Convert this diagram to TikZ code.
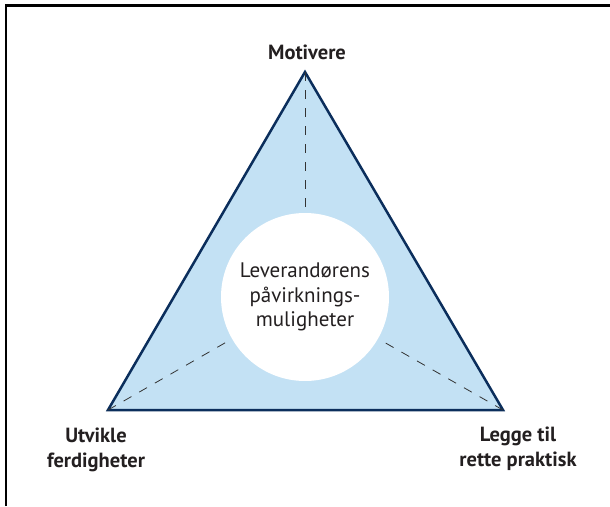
\documentclass[tikz,border=0pt]{standalone}
\usepackage{fontspec}
\setmainfont{PT Sans}
\definecolor{triFill}{HTML}{C3E1F4}
\definecolor{triLine}{HTML}{0B2E5C}
\definecolor{txt}{HTML}{231F20}
\begin{document}
\begin{tikzpicture}[x=1pt,y=-1pt,
  lbl/.style={font=\fontsize{20.5}{25}\selectfont\bfseries, text=txt, align=center, inner sep=0pt},
  ctxt/.style={font=\fontsize{21}{24.5}\selectfont, text=txt, align=center},
  guide/.style={draw=black!80, line width=0.8pt, dash pattern=on 9pt off 9pt}]
\useasboundingbox (0,0) rectangle (610,506);
% frame (left and top only)
\draw[line width=2.5pt] (6,506) -- (6,5.5) -- (610,5.5);
% triangle corners
\coordinate (top) at (305,72);
\coordinate (bl) at (108,410);
\coordinate (br) at (503,410);
\draw[fill=triFill, draw=triLine, line width=2.5pt, line join=miter] (top) -- (br) -- (bl) -- cycle;
% central circle
\node[circle, fill=white, minimum size=168pt, inner sep=0pt] (c) at (305,297) {};
\draw[guide] (top) -- (c);
\draw[guide] (br) -- (c);
\draw[guide] (bl) -- (c);
\node[ctxt] (ct) at (c.center) {Leverandørens\\påvirknings-\\muligheter};
% labels
\node[lbl] (m) at (307,52) {Motivere};
\node[lbl] (u) at (96,450) {Utvikle\\ferdigheter};
\node[lbl] (l) at (518,449) {Legge til\\rette praktisk};
\end{tikzpicture}
\end{document}
